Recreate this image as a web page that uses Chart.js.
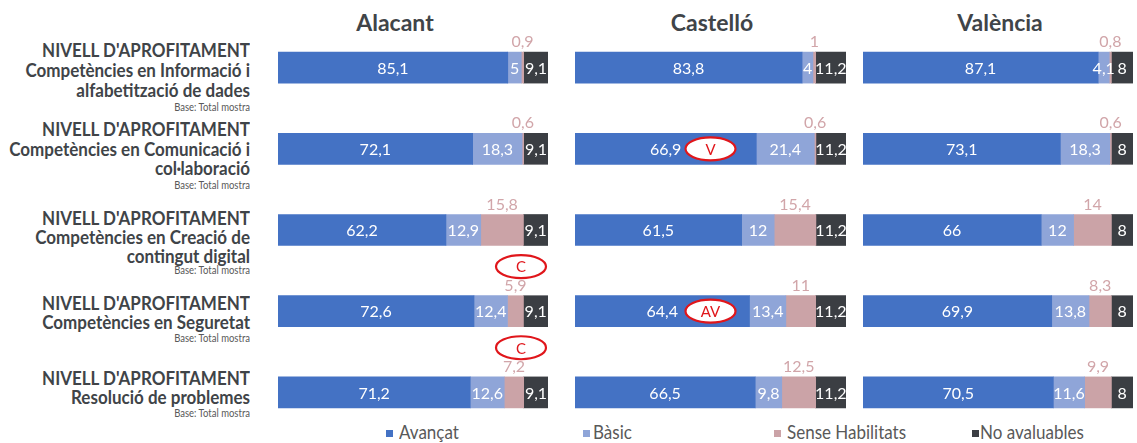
<!DOCTYPE html>
<html>
<head>
<meta charset="utf-8">
<script src="https://cdn.jsdelivr.net/npm/chart.js@4.4.1/dist/chart.umd.min.js"></script>
<style>
  html,body{margin:0;padding:0;background:#fff;}
  body{width:1137px;height:443px;position:relative;overflow:hidden;font-family:Lato,"Noto Sans",sans-serif;}
  .t{position:absolute;white-space:nowrap;line-height:1;}
  .title{font-weight:700;font-size:23px;color:#404448;transform:translateX(-50%);}
  .lab{font-weight:700;font-size:17px;color:#404448;text-align:right;right:887px;transform:scaleY(1.12);transform-origin:100% 88.7%;}
  .base{font-size:9.5px;color:#595959;text-align:right;right:887px;transform:scaleY(1.1);transform-origin:100% 88.7%;}
  .leg{font-size:17px;color:#595959;transform:scaleY(1.08);transform-origin:0 88.7%;}
  .mk{position:absolute;width:7px;height:7px;}
  .panel{position:absolute;top:27px;height:406px;}
</style>
</head>
<body>
<script>
// ---------------- DATA ----------------
const regions = ["Alacant", "Castelló", "València"];
const seriesNames = ["Avançat", "Bàsic", "Sense Habilitats", "No avaluables"];
const rowKeys = ["Informació", "Comunicació", "Creació", "Seguretat", "Resolució"];
const rowLabels = [
  ["NIVELL D'APROFITAMENT", "Competències en Informació i", "alfabetització de dades"],
  ["NIVELL D'APROFITAMENT", "Competències en Comunicació i", "col·laboració"],
  ["NIVELL D'APROFITAMENT", "Competències en Creació de", "contingut digital"],
  ["NIVELL D'APROFITAMENT", "Competències en Seguretat"],
  ["NIVELL D'APROFITAMENT", "Resolució de problemes"]
];
const baseLabel = "Base: Total mostra";

const alacantAvancat = [85.1, 72.1, 62.2, 72.6, 71.2];
const alacantBasic   = [5, 18.3, 12.9, 12.4, 12.6];
const alacantSense   = [0.9, 0.6, 15.8, 5.9, 7.2];
const alacantNoAval  = [9.1, 9.1, 9.1, 9.1, 9.1];

const castelloAvancat = [83.8, 66.9, 61.5, 64.4, 66.5];
const castelloBasic   = [4, 21.4, 12, 13.4, 9.8];
const castelloSense   = [1, 0.6, 15.4, 11, 12.5];
const castelloNoAval  = [11.2, 11.2, 11.2, 11.2, 11.2];

const valenciaAvancat = [87.1, 73.1, 66, 69.9, 70.5];
const valenciaBasic   = [4.1, 18.3, 12, 13.8, 11.6];
const valenciaSense   = [0.8, 0.6, 14, 8.3, 9.9];
const valenciaNoAval  = [8, 8, 8, 8, 8];

// significance marks: [region index, letter, value position, row position]
const marks = [
  [1, "V", 50, 1],
  [1, "AV", 50, 3],
  [0, "C", 90, 2.45],
  [0, "C", 90, 3.45]
];

// ---------------- STYLE / LAYOUT ----------------
const colors = ["#4472C4", "#8FA5D8", "#CBA3A7", "#3B3E43"];
const senseTextColor = "#D1A5A9";
const panelBoxes = [[278, 270], [575, 271], [863, 270]];
const titleX = [395, 712, 1000];
const labelBaselines = [[57, 77, 97], [136, 156, 175], [225, 244, 263], [310, 329], [385, 404]];
const baseBaselines = [111, 189, 274, 342, 417];
const legendPos = [[386, 399], [583, 593], [774, 787], [972, 980]];

const seriesByRegion = [
  [alacantAvancat, alacantBasic, alacantSense, alacantNoAval],
  [castelloAvancat, castelloBasic, castelloSense, castelloNoAval],
  [valenciaAvancat, valenciaBasic, valenciaSense, valenciaNoAval]
];

function addText(cls, text, left, baseline, fs, extra) {
  const d = document.createElement('div');
  d.className = 't ' + cls;
  d.textContent = text;
  d.style.top = (baseline - 0.887 * fs) + 'px';
  if (left !== null) d.style.left = left + 'px';
  if (extra) Object.assign(d.style, extra);
  document.body.appendChild(d);
  return d;
}

// titles
regions.forEach((r, i) => addText('title', r, titleX[i], 31, 23));
// left labels
rowLabels.forEach((lines, r) => {
  lines.forEach((ln, k) => addText('lab', ln, null, labelBaselines[r][k], 17));
  addText('base', baseLabel, null, baseBaselines[r], 9.5);
});
// legend
seriesNames.forEach((n, i) => {
  const m = document.createElement('div');
  m.className = 'mk';
  m.style.left = legendPos[i][0] + 'px';
  m.style.top = '430px';
  m.style.background = colors[i];
  document.body.appendChild(m);
  addText('leg', n, legendPos[i][1], 439, 17);
});

const fmt = v => String(v).replace('.', ',');

const labelPlugin = {
  id: 'barLabels',
  afterDatasetsDraw(chart) {
    const ctx = chart.ctx;
    ctx.save();
    chart.data.datasets.forEach((ds, di) => {
      const meta = chart.getDatasetMeta(di);
      meta.data.forEach((bar, i) => {
        const v = ds.data[i];
        const cx = (bar.x + bar.base) / 2;
        ctx.font = '16px Lato, "Noto Sans", sans-serif';
        ctx.textAlign = 'center';
        if (di === 2) {
          ctx.fillStyle = senseTextColor;
          ctx.textBaseline = 'alphabetic';
          ctx.fillText(fmt(v), cx, bar.y - bar.height / 2 - 5);
        } else {
          ctx.fillStyle = '#FFFFFF';
          ctx.textBaseline = 'middle';
          ctx.fillText(fmt(v), cx, bar.y + 1);
        }
      });
    });
    ctx.restore();
  }
};

const markPlugin = {
  id: 'sigMarks',
  afterDraw(chart) {
    const ri = chart.options.plugins.sigMarks.region;
    const ctx = chart.ctx;
    const xs = chart.scales.x, ys = chart.scales.y;
    ctx.save();
    marks.filter(m => m[0] === ri).forEach(m => {
      const x = xs.getPixelForValue(m[2]);
      const y = ys.getPixelForValue(m[3]);
      ctx.beginPath();
      ctx.ellipse(x, y, 25, 11.5, 0, 0, Math.PI * 2);
      ctx.fillStyle = '#FFFFFF';
      ctx.fill();
      ctx.lineWidth = 2.2;
      ctx.strokeStyle = '#E0161B';
      ctx.stroke();
      ctx.fillStyle = '#E0161B';
      ctx.font = '15px Lato, "Noto Sans", sans-serif';
      ctx.textAlign = 'center';
      ctx.textBaseline = 'middle';
      ctx.fillText(m[1], x, y + 1);
    });
    ctx.restore();
  }
};

regions.forEach((r, ri) => {
  const box = document.createElement('div');
  box.className = 'panel';
  box.style.left = panelBoxes[ri][0] + 'px';
  box.style.width = panelBoxes[ri][1] + 'px';
  const cv = document.createElement('canvas');
  box.appendChild(cv);
  document.body.appendChild(box);
  new Chart(cv, {
    type: 'bar',
    data: {
      labels: rowKeys,
      datasets: seriesNames.map((n, si) => ({
        label: n,
        data: seriesByRegion[ri][si],
        backgroundColor: colors[si],
        borderWidth: 0,
        barThickness: 31
      }))
    },
    options: {
      indexAxis: 'y',
      responsive: true,
      maintainAspectRatio: false,
      animation: false,
      layout: { padding: 0 },
      scales: {
        x: { stacked: true, min: 0, max: 100, display: false },
        y: { stacked: true, display: false }
      },
      plugins: {
        legend: { display: false },
        tooltip: { enabled: false },
        sigMarks: { region: ri }
      }
    },
    plugins: [labelPlugin, markPlugin]
  });
});
</script>
</body>
</html>
